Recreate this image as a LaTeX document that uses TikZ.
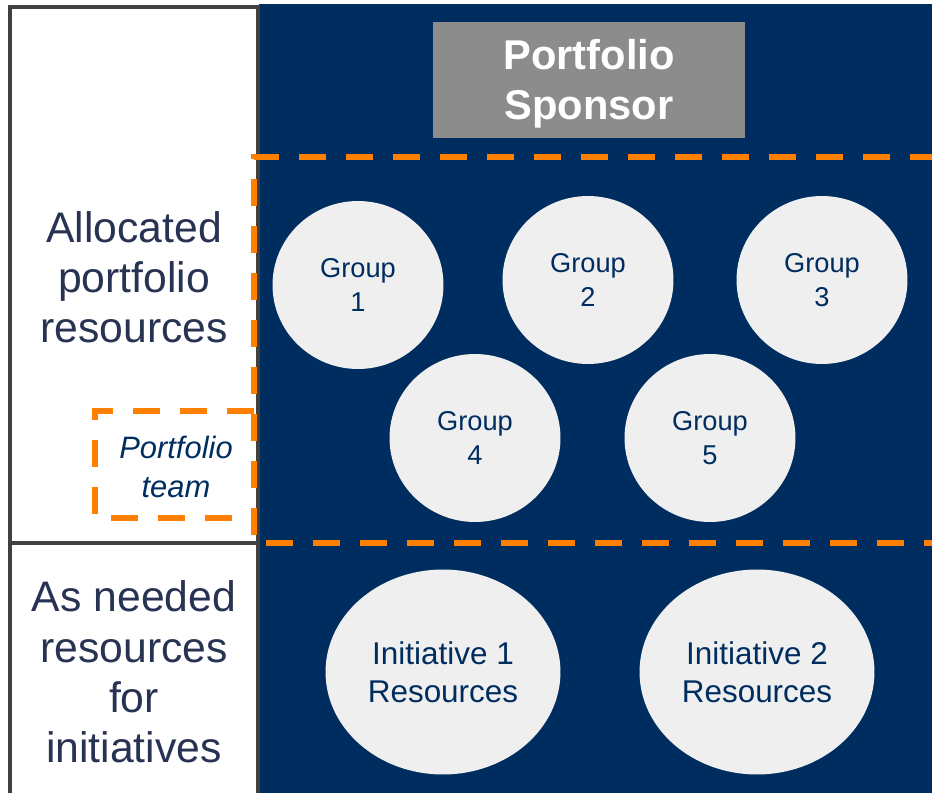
\documentclass[tikz,border=0pt]{standalone}
\usepackage{fontspec}
\setmainfont{Liberation Sans}
\usetikzlibrary{shapes.geometric}

\definecolor{panelnavy}{RGB}{0,45,95}
\definecolor{framegray}{RGB}{64,64,64}
\definecolor{boxgray}{RGB}{140,140,140}
\definecolor{circlegray}{RGB}{239,239,239}
\definecolor{labelnavy}{RGB}{40,50,82}
\definecolor{dashorange}{RGB}{255,127,0}

\begin{document}
\begin{tikzpicture}[x=0.02cm, y=-0.02cm]
    \tikzset{
        sidelabel/.style = {text=labelnavy, align=center, font=\fontsize{24.3}{28.6}\selectfont},
        group/.style = {ellipse, fill=circlegray, minimum width=3.42cm, minimum height=3.36cm, text=panelnavy, align=center, font=\fontsize{15.5}{19}\selectfont},
        initiative/.style = {ellipse, fill=circlegray, minimum width=4.7cm, minimum height=4.1cm, text=panelnavy, align=center, font=\fontsize{17.9}{21.5}\selectfont},
        orangedash/.style = {draw=dashorange, line width=2.9pt, dash pattern=on 0.54cm off 0.4cm},
        frame/.style = {draw=framegray, line width=2.5pt}
    }
    \useasboundingbox (0,0) rectangle (932,793);

    % panels
    \fill[panelnavy] (259,4) rectangle (932,793);
    \draw[frame] (10,793) -- (10,7) -- (258,7) -- (258,793);
    \draw[frame] (10,543) -- (258,543);

    % sponsor on top
    \node (sponsor) [fill=boxgray, minimum width=6.24cm, minimum height=2.32cm, text=white, align=center, font=\bfseries\fontsize{23.7}{28.3}\selectfont] at (589,80) {};
    \node (sponsortext) [text=white, align=center, font=\bfseries\fontsize{23.7}{28.3}\selectfont] at (589,84) {Portfolio\\Sponsor};

    % left labels
    \node (alloc) [sidelabel] at (134,277) {Allocated\\portfolio\\resources};
    \node (needed) [sidelabel] at (134,672) {As needed\\resources\\for\\initiatives};
    \node (team) [text=panelnavy, align=center, font=\itshape\fontsize{17.6}{22.2}\selectfont] at (176,467) {Portfolio\\team};

    % groups
    \node (g1) [group] at (358,285) {Group\\1};
    \node (g2) [group] at (588,280) {Group\\2};
    \node (g3) [group] at (822,280) {Group\\3};
    \node (g4) [group] at (475,438) {Group\\4};
    \node (g5) [group] at (710,438) {Group\\5};

    % initiatives
    \node (init1) [initiative] at (443,672) {Initiative 1\\Resources};
    \node (init2) [initiative] at (757,672) {Initiative 2\\Resources};

    % dashed outlines
    \draw[orangedash, dash phase=0.1cm] (932,157) -- (254,157) -- (254,543) -- (932,543);
    \draw[orangedash] (254,411) -- (95,411) -- (95,518) -- (254,518);
\end{tikzpicture}
\end{document}
